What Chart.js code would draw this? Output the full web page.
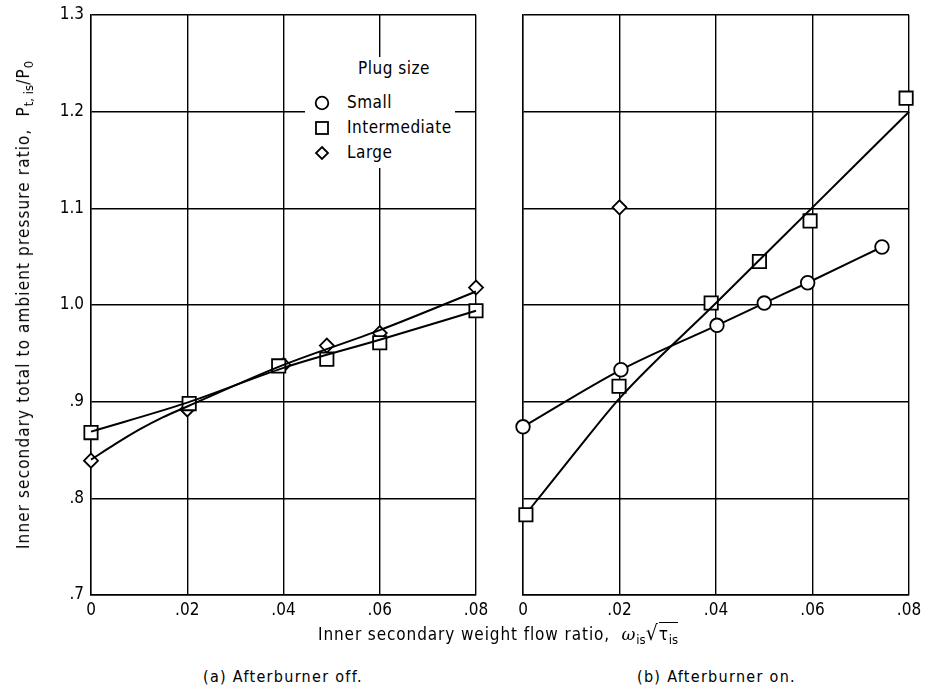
<!DOCTYPE html>
<html>
<head>
<meta charset="utf-8">
<script src="https://cdn.jsdelivr.net/npm/chart.js@4.4.1/dist/chart.umd.min.js"></script>
<style>
  body { margin: 0; background: #fff; }
  #wrap { position: relative; width: 927px; height: 690px; overflow: hidden;
          font-family: "DejaVu Sans Condensed", "Liberation Sans Narrow", sans-serif; color: #000; }
  canvas { position: absolute; top: 0; }
  .txt { position: absolute; white-space: nowrap; font-size: 17px; line-height: 1; }
  .txt sub { font-size: 13px; vertical-align: -4px; letter-spacing: 0; }
  #ytitle { left: 25px; top: 305px; letter-spacing: 1.1px; transform: translate(-50%, -50%) rotate(-90deg); }
  #xtitle { left: 318px; top: 623px; letter-spacing: 0.9px; }
  .over { border-top: 1.5px solid #000; padding-top: 1px; }
  #capA { left: 203px; top: 669px; font-size: 16px; letter-spacing: 1.3px; }
  #capB { left: 637px; top: 669px; font-size: 16px; letter-spacing: 1.3px; }
  #legend { position: absolute; left: 305px; top: 57px; width: 150px; height: 111px; background: #fff; }
  #legend .row { position: absolute; left: 0; font-size: 17px; line-height: 1; white-space: nowrap; letter-spacing: 0.5px; }
  #legend svg { position: absolute; left: 9px; top: -7px; }
  #legend span { position: absolute; left: 42px; top: -8px; }
</style>
</head>
<body>
<div id="wrap">
  <canvas id="chartOff" width="490" height="625" style="left:0"></canvas>
  <canvas id="chartOn" width="437" height="625" style="left:490px"></canvas>

  <div id="legend">
    <div class="row" style="top:11px"><span style="left:53px">Plug size</span></div>
    <div class="row" style="top:45px">
      <svg width="16" height="16"><circle cx="8" cy="8" r="6.3" fill="#fff" stroke="#000" stroke-width="1.8"/></svg>
      <span>Small</span>
    </div>
    <div class="row" style="top:70px">
      <svg width="16" height="16"><rect x="2" y="2" width="12" height="12" fill="#fff" stroke="#000" stroke-width="1.8"/></svg>
      <span>Intermediate</span>
    </div>
    <div class="row" style="top:95px">
      <svg width="16" height="16"><polygon points="8,2 14,8 8,14 2,8" fill="#fff" stroke="#000" stroke-width="1.8"/></svg>
      <span>Large</span>
    </div>
  </div>

  <div class="txt" id="ytitle">Inner secondary total to ambient pressure ratio,&nbsp; P<sub>t, is</sub>/P<sub>0</sub></div>
  <div class="txt" id="xtitle">Inner secondary weight flow ratio,&nbsp; <i style="font-family:'DejaVu Serif',serif">ω</i><sub>is</sub><span style="font-size:21px">√</span><span class="over">τ<sub>is</sub></span></div>
  <div class="txt" id="capA">(a) Afterburner off.</div>
  <div class="txt" id="capB">(b) Afterburner on.</div>
</div>

<script>
// axis ticks
const xTickVals   = [0, 0.02, 0.04, 0.06, 0.08];
const xTickLabels = ['0', '.02', '.04', '.06', '.08'];
const yTickVals   = [0.7, 0.8, 0.9, 1.0, 1.1, 1.2, 1.3];
const yTickLabels = ['.7', '.8', '.9', '1.0', '1.1', '1.2', '1.3'];

// (a) afterburner off - measured points
const offInterX = [0, 0.0204, 0.039, 0.049, 0.060, 0.080];
const offInterY = [0.868, 0.898, 0.937, 0.944, 0.961, 0.994];
const offLargeX = [0, 0.020, 0.040, 0.049, 0.060, 0.080];
const offLargeY = [0.839, 0.892, 0.938, 0.958, 0.971, 1.018];
// (a) faired curves
const offInterFitX = [0, 0.02, 0.04, 0.06, 0.08];
const offInterFitY = [0.869, 0.899, 0.935, 0.964, 0.994];
const offLargeFitX = [0, 0.005, 0.01, 0.015, 0.02, 0.04, 0.06, 0.08];
const offLargeFitY = [0.840, 0.856, 0.871, 0.884, 0.895, 0.938, 0.974, 1.014];

// (b) afterburner on - measured points
const onSmallX = [0, 0.0203, 0.0402, 0.050, 0.059, 0.0744];
const onSmallY = [0.874, 0.933, 0.979, 1.002, 1.023, 1.060];
const onInterX = [0.0006, 0.0199, 0.039, 0.049, 0.0595, 0.0794];
const onInterY = [0.783, 0.916, 1.002, 1.045, 1.087, 1.214];
const onLargeX = [0.020];
const onLargeY = [1.101];
// (b) faired curve for intermediate plug
const onInterFitX = [0.0016, 0.0109, 0.0201, 0.04, 0.06, 0.08];
const onInterFitY = [0.790, 0.848, 0.904, 1.002, 1.101, 1.200];

const INK = '#000';
const FONT = '"DejaVu Sans Condensed", "Liberation Sans Narrow", sans-serif';

const toPts = (xs, ys) => xs.map((x, i) => ({ x, y: ys[i] }));

const markers = {
  small: { pointStyle: 'circle', pointRadius: 6.8 },
  inter: { pointStyle: 'rect', pointRadius: 9.4 },
  large: { pointStyle: 'rectRot', pointRadius: 7 }
};

function series(xs, ys, kind, withLine) {
  return {
    data: toPts(xs, ys),
    showLine: withLine,
    borderColor: INK,
    borderWidth: 2,
    cubicInterpolationMode: 'monotone',
    pointBackgroundColor: '#fff',
    pointBorderColor: INK,
    pointBorderWidth: 1.8,
    pointHoverRadius: markers[kind].pointRadius,
    clip: false,
    ...markers[kind]
  };
}

function fitLine(xs, ys) {
  return {
    data: toPts(xs, ys),
    showLine: true,
    borderColor: INK,
    borderWidth: 2,
    cubicInterpolationMode: 'monotone',
    pointRadius: 0,
    pointHoverRadius: 0,
    clip: false
  };
}

function makeScales(showY) {
  return {
    x: {
      type: 'linear', min: 0, max: 0.08,
      afterBuildTicks: axis => { axis.ticks = xTickVals.map(v => ({ value: v })); },
      afterFit: scale => { scale.height = 30; scale.paddingLeft = 0; scale.paddingRight = 0; },
      ticks: {
        color: INK, padding: 5, maxRotation: 0, autoSkip: false,
        font: { family: FONT, size: 17 },
        callback: (v, i) => xTickLabels[i]
      },
      grid: { color: INK, lineWidth: 1.4, drawTicks: false },
      border: { color: INK, width: 1.4 }
    },
    y: {
      type: 'linear', min: 0.7, max: 1.3,
      afterBuildTicks: axis => { axis.ticks = yTickVals.map(v => ({ value: v })); },
      afterFit: scale => { scale.width = showY ? 46 : 0; scale.paddingTop = 0; scale.paddingBottom = 0; },
      ticks: {
        display: showY, color: INK, padding: 7, autoSkip: false,
        font: { family: FONT, size: 17 },
        callback: (v, i) => yTickLabels[i]
      },
      grid: { color: INK, lineWidth: 1.4, drawTicks: false },
      border: { color: INK, width: 1.4 }
    }
  };
}

const common = {
  responsive: false,
  animation: false,
  events: [],
  plugins: { legend: { display: false }, tooltip: { enabled: false } }
};

new Chart(document.getElementById('chartOff'), {
  type: 'scatter',
  data: {
    datasets: [
      fitLine(offInterFitX, offInterFitY),
      fitLine(offLargeFitX, offLargeFitY),
      series(offInterX, offInterY, 'inter', false),
      series(offLargeX, offLargeY, 'large', false)
    ]
  },
  options: {
    ...common,
    layout: { padding: { left: 45, right: 14, top: 15, bottom: 0 } },
    scales: makeScales(true)
  }
});

new Chart(document.getElementById('chartOn'), {
  type: 'scatter',
  data: {
    datasets: [
      fitLine(onInterFitX, onInterFitY),
      series(onSmallX, onSmallY, 'small', true),
      series(onInterX, onInterY, 'inter', false),
      series(onLargeX, onLargeY, 'large', false)
    ]
  },
  options: {
    ...common,
    layout: { padding: { left: 33, right: 18, top: 15, bottom: 0 } },
    scales: makeScales(false)
  }
});
</script>
</body>
</html>
